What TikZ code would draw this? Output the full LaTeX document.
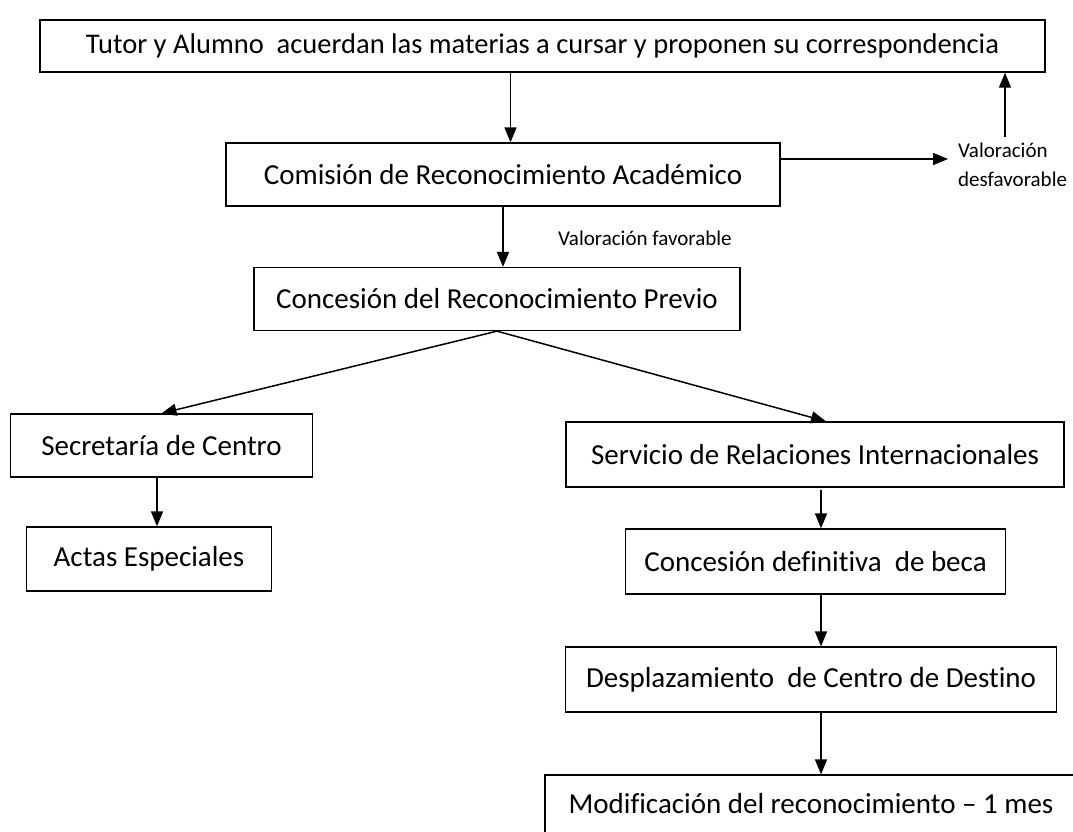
\documentclass[tikz,border=0pt]{standalone}
\usepackage{fontspec}
\setmainfont{Carlito}[Ligatures=NoCommon]
\usetikzlibrary{arrows.meta}

\tikzset{
    caja/.style={draw, line width=1.3pt, inner sep=0pt, align=center,
        font=\fontsize{29}{34}\selectfont},
    nota/.style={inner sep=0pt, align=left, font=\fontsize{21}{29}\selectfont},
    flecha/.style={line width=1.5pt, -{Triangle[length=15pt,width=12pt]}}
}

\begin{document}
\begin{tikzpicture}[x=1pt, y=-1pt]
        \useasboundingbox (0,0) rectangle (1073,831);

        \node[caja, minimum width=1005pt, minimum height=52pt, font=\fontsize{28.5}{34}\selectfont] (tutor) at (542.5,46)
            {Tutor y Alumno\ \ acuerdan las materias a cursar y proponen su correspondencia};
        \node[caja, minimum width=554pt, minimum height=63pt] (comision) at (503,174.5)
            {Comisión de Reconocimiento Académico};
        \node[caja, minimum width=486pt, minimum height=63pt] (previo) at (497,299)
            {Concesión del Reconocimiento Previo};
        \node[caja, minimum width=302pt, minimum height=63pt] (secretaria) at (161.5,445.5)
            {Secretaría de Centro};
        \node[caja, minimum width=245pt, minimum height=64pt] (actas) at (149,559)
            {Actas Especiales};
        \node[caja, minimum width=498pt, minimum height=65pt] (servicio) at (815,454.5)
            {Servicio de Relaciones Internacionales};
        \node[caja, minimum width=380pt, minimum height=65pt] (definitiva) at (815.5,561.5)
            {Concesión definitiva\ \ de beca};
        \node[caja, minimum width=491pt, minimum height=65pt] (desplaza) at (811,679.5)
            {Desplazamiento\ \ de Centro de Destino};
        \node[caja, minimum width=532pt, minimum height=58pt] (modifica) at (811,804)
            {Modificación del reconocimiento -- 1 mes};

        \node[nota, anchor=west] (favorable) at (558,238) {Valoración favorable};
        \node[nota, anchor=west] (desfavorable) at (958,165) {Valoración\\desfavorable};

        \draw[flecha] (tutor.south -| 510.5,0) -- (comision.north -| 510.5,0);
        \draw[flecha] (comision.south) -- (previo.north -| comision.south);
        \draw[flecha] (comision.east |- 0,159) -- (948,159);
        \draw[flecha] (desfavorable.north -| 1005,0) ++(0,-6) -- (tutor.south -| 1005,0);

        \draw[flecha] (previo.south) -- (secretaria.north);
        \draw[flecha] (previo.south) -- (servicio.north -| 826,0);
        \draw[flecha] (secretaria.south -| 157,0) -- (actas.north -| 157,0);

        \draw[flecha] (servicio.south -| 821,0) ++(0,2) -- (definitiva.north -| 821,0);
        \draw[flecha] (definitiva.south -| 821,0) -- (desplaza.north -| 821,0);
        \draw[flecha] (desplaza.south -| 821,0) -- (modifica.north -| 821,0);
        % Grid
        %\draw[help lines] (0,0) grid[step=50] (1073,831);
    \end{tikzpicture}
\end{document}
